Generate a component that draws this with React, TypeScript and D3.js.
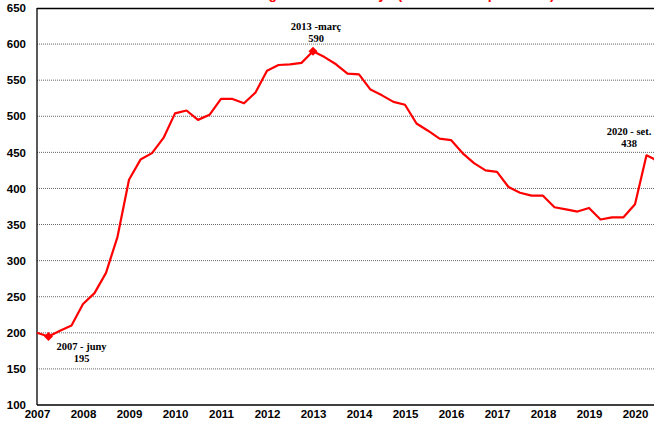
import * as d3 from "d3";
import { useEffect, useRef } from "react";

// quarterly values, March 2007 .. September 2020
const years = [2007, 2008, 2009, 2010, 2011, 2012, 2013, 2014, 2015, 2016, 2017, 2018, 2019, 2020];
const months = ["març", "juny", "set.", "des."];
const values = [
  200, 195, 203, 210, 240, 255, 283, 333, 412, 440, 449, 470,
  504, 508, 495, 502, 524, 524, 518, 533, 563, 571, 572, 574,
  590, 582, 572, 559, 558, 537, 529, 520, 516, 490, 480, 469,
  467, 449, 435, 425, 423, 402, 394, 390, 390, 374, 371, 368,
  373, 357, 360, 360, 378, 446, 438,
];
const yTicks = [100, 150, 200, 250, 300, 350, 400, 450, 500, 550, 600, 650];
const notes = [
  { i: 1, top: "2007 - juny", bottom: "195", dx: 33, dy: 14 },
  { i: 24, top: "2013 -març", bottom: "590", dx: 3, dy: -21 },
  { i: 54, top: "2020 - set.", bottom: "438", dx: -29, dy: -26 },
];
const title = "Evolució de l'atur registrat a Catalunya (en milers de persones)";

export default function App() {
  const w = 654;
  const h = 425;
  const svgRef = useRef(null);

  useEffect(() => {
    const svg = d3.select(svgRef.current);
    svg.selectAll("*").remove();

    const x = d3.scaleLinear().domain([0, values.length - 1]).range([37, 658]);
    const y = d3.scaleLinear().domain([100, 650]).range([405, 8]);

    // title (cut off at top, as in the source)
    svg
      .append("text")
      .attr("x", 345)
      .attr("y", -1.5)
      .attr("text-anchor", "middle")
      .attr("fill", "#ff0000")
      .style("font", "bold 14px 'Liberation Sans', Arial, sans-serif")
      .text(title);

    // grid
    svg
      .append("g")
      .selectAll("line")
      .data(yTicks.filter((t) => t > 100 && t < 650))
      .join("line")
      .attr("x1", 37)
      .attr("x2", w)
      .attr("y1", (d) => y(d))
      .attr("y2", (d) => y(d))
      .attr("stroke", "#666")
      .attr("stroke-width", 1)
      .attr("stroke-dasharray", "1,1");

    // frame
    svg.append("line").attr("x1", 37).attr("x2", w).attr("y1", 8.5).attr("y2", 8.5).attr("stroke", "#000").attr("stroke-width", 1.3);
    svg.append("line").attr("x1", 37).attr("x2", w).attr("y1", 405).attr("y2", 405).attr("stroke", "#000").attr("stroke-width", 1.3);
    svg.append("line").attr("x1", 37).attr("x2", 37).attr("y1", 8).attr("y2", 405).attr("stroke", "#000").attr("stroke-width", 1.3);

    const lab = "bold 11.5px 'Liberation Sans', Arial, sans-serif";

    // y axis labels
    const yAxis = d3.axisLeft(y).tickValues(yTicks).tickSize(0).tickPadding(11);
    const gy = svg.append("g").attr("transform", "translate(37,0)").call(yAxis);
    gy.select(".domain").remove();
    gy.selectAll("text").style("font", lab).attr("fill", "#000");

    // x axis labels
    const xAxis = d3
      .axisBottom(x)
      .tickValues(years.map((_, k) => k * 4))
      .tickFormat((i) => String(years[Math.round(+i / 4)]))
      .tickSize(0)
      .tickPadding(5);
    const gx = svg.append("g").attr("transform", "translate(0,405)").call(xAxis);
    gx.select(".domain").remove();
    gx.selectAll("text").style("font", lab).attr("fill", "#000");

    // line
    const line = d3
      .line<number>()
      .x((_, i) => x(i))
      .y((d) => y(d));
    svg
      .append("path")
      .datum(values)
      .attr("d", line)
      .attr("fill", "none")
      .attr("stroke", "#ff0000")
      .attr("stroke-width", 2.2)
      .attr("stroke-linejoin", "round");

    // markers (square turned 45 degrees)
    svg
      .append("g")
      .selectAll("path")
      .data(notes)
      .join("path")
      .attr("transform", (d) => `translate(${x(d.i)},${y(values[d.i])}) rotate(45)`)
      .attr("d", d3.symbol(d3.symbolSquare, 40))
      .attr("fill", "#ff0000");

    // annotations
    const g = svg
      .append("g")
      .selectAll("g")
      .data(notes)
      .join("g")
      .attr("transform", (d) => `translate(${x(d.i) + d.dx},${y(values[d.i]) + d.dy})`);
    g.append("text")
      .attr("text-anchor", "middle")
      .attr("y", 0)
      .style("font", "bold 10.5px 'Liberation Serif', 'Times New Roman', serif")
      .text((d) => d.top);
    g.append("text")
      .attr("text-anchor", "middle")
      .attr("y", 12)
      .style("font", "bold 10.5px 'Liberation Serif', 'Times New Roman', serif")
      .text((d) => d.bottom);
  }, []);

  return (
    <div style={{ position: "absolute", left: 0, top: 0 }}>
      <svg ref={svgRef} width={w} height={h} style={{ display: "block", background: "#fff" }} />
    </div>
  );
}
